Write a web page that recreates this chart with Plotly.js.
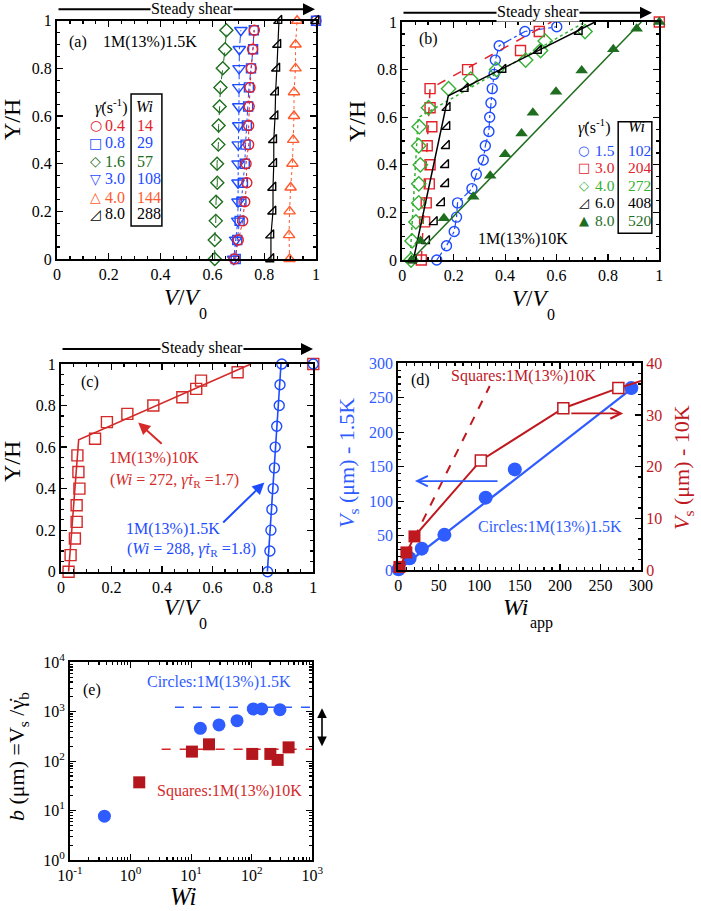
<!DOCTYPE html>
<html><head><meta charset="utf-8">
<script src="https://cdn.plot.ly/plotly-3.0.1.min.js"></script>
<style>html,body{margin:0;padding:0;background:#fff}#chart{width:701px;height:911px}</style>
</head><body><div id="chart"></div>
<script>
// ================= DATA =================
// Panel (a) 1M(13%)1.5K velocity profiles
const aY = [0,0.08,0.16,0.24,0.32,0.40,0.48,0.56,0.64,0.72,0.80,0.88,0.96];
const aY10 = [0,0.1,0.2,0.3,0.4,0.5,0.6,0.7,0.8,0.9,1.0];
const aX04 = [0.685,0.700,0.717,0.725,0.733,0.730,0.740,0.740,0.742,0.745,0.750,0.755,0.762];
const aX08 = [0.690,0.696,0.705,0.712,0.718,0.725,0.728,0.733,0.738,0.741,0.749,0.757,0.760];
const aX16 = [0.609,0.609,0.613,0.614,0.619,0.618,0.623,0.624,0.628,0.631,0.640,0.649,0.654];
const aX30 = [0.682,0.690,0.698,0.699,0.699,0.699,0.700,0.702,0.702,0.702,0.703,0.704,0.710];
const aX40 = [0.898,0.896,0.898,0.902,0.909,0.912,0.915,0.915,0.921,0.921,0.927];
const aX80 = [0.826,0.826,0.834,0.834,0.837,0.837,0.842,0.844,0.849,0.853,0.857];
const aLegRate = ['0.4','0.8','1.6','3.0','4.0','8.0'];
const aLegWi = ['14','29','57','108','144','288'];
const wallX = [1], wallY = [1];

// Panel (b) 1M(13%)10K velocity profiles
const bY15 = [0,0.06,0.12,0.18,0.24,0.30,0.36,0.42,0.48,0.54,0.60,0.66,0.72,0.78,0.84,0.90,0.96,0.98];
const bX15 = [0.134,0.172,0.202,0.211,0.215,0.271,0.288,0.315,0.323,0.337,0.340,0.345,0.350,0.357,0.362,0.377,0.477,0.601];
const bY30 = [0,0.16,0.24,0.32,0.40,0.48,0.56,0.64,0.72,0.80,0.88,0.96];
const bX30 = [0.074,0.087,0.093,0.105,0.108,0.097,0.115,0.108,0.108,0.254,0.460,0.533];
const bY40 = [0,0.08,0.16,0.24,0.32,0.40,0.48,0.56,0.64,0.72,0.76,0.80,0.84,0.88,0.92,0.96];
const bX40 = [0.034,0.038,0.053,0.064,0.064,0.070,0.064,0.066,0.102,0.180,0.266,0.367,0.480,0.538,0.556,0.711];
const bY60 = [0,0.08,0.16,0.24,0.32,0.40,0.48,0.56,0.64,0.72,0.80,0.88,0.96];
const bX60 = [0.043,0.095,0.125,0.153,0.169,0.169,0.172,0.174,0.175,0.245,0.392,0.530,0.689];
const bY80 = [0,0.08,0.175,0.266,0.354,0.444,0.532,0.619,0.707,0.796,0.885,0.972];
const bX80 = [0.036,0.071,0.162,0.276,0.342,0.400,0.464,0.508,0.598,0.698,0.821,0.912];
const bFit30X = [0.074,0.108,0.58], bFit30Y = [0,0.72,1.0];
const bFit40X = [0.030,0.062,0.711], bFit40Y = [0,0.598,1.0];
const bFit60X = [0.043,0.179,0.179,0.75], bFit60Y = [0,0.686,0.69,1.0];
const bFit80X = [0.035,0.93], bFit80Y = [0,1.0];
const bLegRate = ['1.5','3.0','4.0','6.0','8.0'];
const bLegWi = ['102','204','272','408','520'];

// Panel (c) comparison
const cY10K = [0,0.08,0.16,0.24,0.32,0.40,0.48,0.56,0.64,0.72,0.76,0.80,0.84,0.88,0.92,0.96];
const cX10K = [0.030,0.038,0.055,0.062,0.062,0.073,0.069,0.065,0.135,0.182,0.263,0.366,0.481,0.536,0.555,0.700];
const cY15K = [0,0.1,0.2,0.3,0.4,0.5,0.6,0.7,0.8,0.9,1.0];
const cX15K = [0.819,0.828,0.832,0.836,0.841,0.846,0.849,0.855,0.865,0.868,0.875];
const cFit10KX = [0.03,0.07,0.753], cFit10KY = [0,0.635,1.0];
const cFit15KX = [0.818,0.872], cFit15KY = [0,1.0];

// Panel (d) slip velocity vs Wi
const dWi15 = [0.37,14,29,57,108,144,288];
const dV15 = [1,17,31,51,105,146,264];
const dWi10f = [1.4,10,20];
const dV10f = [0.6,3.4,6.5];
const dWi10o = [102,204,272];
const dV10o = [21.2,31.3,35.2];
const dFit15X = [0,295], dFit15Y = [0,269];
const dFit10X = [0,20,102,204,272,300], dFit10Y = [0,6.5,21.2,31.3,35.2,36.6];
const dInit10X = [0,113], dInit10Y = [0,35.6];

// Panel (e) extrapolation length b vs Wi
const eWi15 = [0.37,14.2,28.8,57.2,106,146,292];
const eB15 = [7.7,462,540,660,1137,1137,1102];
const eWi10 = [1.39,10.3,19.7,102,203,268,406];
const eB10 = [37.3,156,219,140,140,106,190];
const eRef15X = [5.4,1000], eRef15Y = [1228,1228];
const eRef10X = [3.26,1000], eRef10Y = [174,174];
const eXtickVals = [0.1,1,10,100,1000];
const eXtickText = ['10<sup>-1</sup>','10<sup>0</sup>','10<sup>1</sup>','10<sup>2</sup>','10<sup>3</sup>'];
const eYtickVals = [1,10,100,1000,10000];
const eYtickText = ['10<sup>0</sup>','10<sup>1</sup>','10<sup>2</sup>','10<sup>3</sup>','10<sup>4</sup>'];

// ================= STYLE =================
const F = 'Liberation Serif';
const RED = '#e3222a', BLUE = '#1d4bff', DGREEN = '#1f6e1f', LGREEN = '#35b034', ORANGE = '#ff5a2e', BLACK = '#000';
const DRED = '#c0181f', EBLUE = '#2f5cff', ERED = '#b3161c';

function tr(x, y, xa, ya, mode, marker, line) {
  const t = {type:'scatter', x:x, y:y, xaxis:xa, yaxis:ya, mode:mode, cliponaxis:false, hoverinfo:'skip', showlegend:false};
  if (marker) t.marker = marker;
  if (line) t.line = line;
  return t;
}
function om(sym, color, size) { return {symbol:sym, size:size||10, color:color, line:{color:color, width:1.4}}; }
function fm(sym, color, size) { return {symbol:sym, size:size||12, color:color, line:{color:color, width:0}}; }

const traces = [
  // (a)
  tr(aX16, aY, 'x', 'y', 'lines+markers', om('diamond-open', DGREEN, 10), {color:DGREEN, width:1, dash:'dash'}),
  tr(aX30, aY, 'x', 'y', 'lines+markers', om('triangle-down-open', BLUE, 11), {color:BLUE, width:1, dash:'dashdot'}),
  tr(aX08, aY, 'x', 'y', 'lines+markers', om('square-open', BLUE, 9), {color:BLUE, width:1, dash:'dashdot'}),
  tr(aX04, aY, 'x', 'y', 'lines+markers', om('circle-open', RED, 10), {color:RED, width:1, dash:'dot'}),
  tr(aX40, aY10, 'x', 'y', 'lines+markers', om('triangle-up-open', ORANGE, 10), {color:ORANGE, width:1, dash:'dot'}),
  tr(aX80, aY10, 'x', 'y', 'lines+markers', om('triangle-se-open', BLACK, 9), {color:BLACK, width:1.2}),
  tr(wallX, wallY, 'x', 'y', 'markers', om('circle-open', RED, 10)),
  tr(wallX, wallY, 'x', 'y', 'markers', om('square-open', BLUE, 9)),
  tr(wallX, wallY, 'x', 'y', 'markers', om('triangle-se-open', BLACK, 9)),
  // (b)
  tr(bX15, bY15, 'x2', 'y2', 'lines+markers', om('circle-open', BLUE, 10), {color:BLUE, width:1.2, dash:'dashdot'}),
  tr(bFit30X, bFit30Y, 'x2', 'y2', 'lines', null, {color:RED, width:1.5, dash:'dash'}),
  tr(bX30, bY30, 'x2', 'y2', 'markers', om('square-open', RED, 10)),
  tr(bFit40X, bFit40Y, 'x2', 'y2', 'lines', null, {color:LGREEN, width:1.5, dash:'dot'}),
  tr(bX40, bY40, 'x2', 'y2', 'markers', om('diamond-open', LGREEN, 11)),
  tr(bFit60X, bFit60Y, 'x2', 'y2', 'lines', null, {color:BLACK, width:1.5}),
  tr(bX60, bY60, 'x2', 'y2', 'markers', om('triangle-se-open', BLACK, 9)),
  tr(bFit80X, bFit80Y, 'x2', 'y2', 'lines', null, {color:DGREEN, width:1.5}),
  tr(bX80, bY80, 'x2', 'y2', 'markers', fm('triangle-up', DGREEN, 11)),
  tr(wallX, wallY, 'x2', 'y2', 'markers', om('square-open', RED, 10)),
  tr(wallX, wallY, 'x2', 'y2', 'markers', fm('triangle-up', DGREEN, 11)),
  // (c)
  tr(cFit10KX, cFit10KY, 'x3', 'y3', 'lines', null, {color:'#d42a2a', width:1.6}),
  tr(cX10K, cY10K, 'x3', 'y3', 'markers', om('square-open', '#d42a2a', 11)),
  tr(cFit15KX, cFit15KY, 'x3', 'y3', 'lines', null, {color:BLUE, width:1.6}),
  tr(cX15K, cY15K, 'x3', 'y3', 'markers', om('circle-open', BLUE, 10)),
  tr(wallX, wallY, 'x3', 'y3', 'markers', om('square-open', '#d42a2a', 11)),
  tr(wallX, wallY, 'x3', 'y3', 'markers', om('circle-open', BLUE, 10)),
  // (d)
  tr(dFit15X, dFit15Y, 'x4', 'y4', 'lines', null, {color:EBLUE, width:2.2}),
  tr(dWi15, dV15, 'x4', 'y4', 'markers', fm('circle', EBLUE, 14)),
  tr(dInit10X, dInit10Y, 'x4', 'y6', 'lines', null, {color:DRED, width:2, dash:'dash'}),
  tr(dFit10X, dFit10Y, 'x4', 'y6', 'lines', null, {color:DRED, width:2}),
  tr(dWi10f, dV10f, 'x4', 'y6', 'markers', fm('square', DRED, 12)),
  tr(dWi10o, dV10o, 'x4', 'y6', 'markers', {symbol:'square', size:11, color:'#fff', line:{color:DRED, width:1.5}}),
  // (e)
  tr(eRef15X, eRef15Y, 'x5', 'y5', 'lines', null, {color:EBLUE, width:1.5, dash:'dash'}),
  tr(eRef10X, eRef10Y, 'x5', 'y5', 'lines', null, {color:'#d8242a', width:1.5, dash:'dash'}),
  tr(eWi15, eB15, 'x5', 'y5', 'markers', fm('circle', EBLUE, 13)),
  tr(eWi10, eB10, 'x5', 'y5', 'markers', fm('square', ERED, 12))
];

// ================= AXES =================
function ax(dom, extra) {
  return Object.assign({
    domain: dom, showline:true, linecolor:'black', linewidth:2, mirror:'ticks',
    ticks:'inside', ticklen:6, tickwidth:1.2, tickcolor:'black',
    showgrid:false, zeroline:false, fixedrange:true,
    tickfont:{family:F, size:16, color:'black'}
  }, extra);
}
const H = 911, W = 701;
const px = v => v / W, py = v => 1 - v / H;

const lin01 = {range:[0,1], dtick:0.2, tick0:0, minor:{ticks:'inside', ticklen:3, dtick:0.05, tickcolor:'black'}};

const layout = {
  width: W, height: H, margin:{l:0, r:0, t:0, b:0},
  paper_bgcolor:'#fff', plot_bgcolor:'#fff', showlegend:false,
  font:{family:F, color:'black'},
  xaxis:  ax([px(57), px(316)], Object.assign({anchor:'y'}, lin01)),
  yaxis:  ax([py(259), py(20.7)], Object.assign({anchor:'x'}, lin01)),
  xaxis2: ax([px(402.3), px(659.3)], Object.assign({anchor:'y2'}, lin01)),
  yaxis2: ax([py(260), py(22)], Object.assign({anchor:'x2'}, lin01)),
  xaxis3: ax([px(61), px(313.3)], Object.assign({anchor:'y3'}, lin01)),
  yaxis3: ax([py(571.7), py(364)], Object.assign({anchor:'x3'}, lin01)),
  xaxis4: ax([px(398.3), px(641)], {anchor:'y4', range:[0,300], dtick:50, tick0:0,
           minor:{ticks:'inside', ticklen:3, dtick:10, tickcolor:'black'}}),
  yaxis4: ax([py(570), py(363.3)], {anchor:'x4', range:[0,300], dtick:50, tick0:0, mirror:false,
           tickfont:{family:F, size:16, color:EBLUE},
           minor:{ticks:'inside', ticklen:3, dtick:10, tickcolor:'black'}}),
  yaxis6: ax([py(570), py(363.3)], {anchor:'x4', overlaying:'y4', side:'right', range:[0,40], dtick:10, tick0:0, mirror:false,
           tickfont:{family:F, size:16, color:DRED},
           minor:{ticks:'inside', ticklen:3, dtick:2, tickcolor:'black'}}),
  xaxis5: ax([px(70), px(312.3)], {anchor:'y5', type:'log', range:[-1,3], tickmode:'array',
           tickvals:eXtickVals, ticktext:eXtickText,
           minor:{ticks:'inside', ticklen:3, dtick:'D1', tickcolor:'black'}}),
  yaxis5: ax([py(860), py(662.3)], {anchor:'x5', type:'log', range:[0,4], tickmode:'array',
           tickvals:eYtickVals, ticktext:eYtickText,
           minor:{ticks:'inside', ticklen:3, dtick:'D1', tickcolor:'black'}}),
  shapes: [
    {type:'rect', xref:'x', yref:'y', x0:0.286, x1:0.405, y0:0.138, y1:0.692, line:{color:'black', width:1.5}},
    {type:'rect', xref:'x2', yref:'y2', x0:0.84, x1:0.971, y0:0.112, y1:0.581, line:{color:'black', width:1.5}}
  ],
  annotations: []
};

const A = layout.annotations;
function T(text, x, y, xref, yref, size, color, extra) {
  A.push(Object.assign({text:text, x:x, y:y, xref:xref, yref:yref, showarrow:false,
    xanchor:'center', yanchor:'middle',
    font:{family:F, size:size, color:color||'black'}}, extra||{}));
}
function arrowP(x0, x1, y, extra) { // horizontal arrow in paper px
  A.push(Object.assign({text:'', x:px(x1), y:py(y), ax:px(x0), ay:py(y), xref:'paper', yref:'paper',
    axref:'paper', ayref:'paper', showarrow:true, arrowhead:2, arrowsize:1.2, arrowwidth:2, arrowcolor:'black'}, extra||{}));
}

// Steady shear arrows
arrowP(57, 315, 9.3); T('Steady shear', px(192), py(9), 'paper', 'paper', 16, 'black', {bgcolor:'#fff', borderpad:0});
arrowP(402, 652, 12.7); T('Steady shear', px(538), py(12), 'paper', 'paper', 16, 'black', {bgcolor:'#fff', borderpad:0});
arrowP(61, 313, 349); T('Steady shear', px(202), py(348), 'paper', 'paper', 16, 'black', {bgcolor:'#fff', borderpad:0});

// Axis titles
const YH = (x, y) => T('Y/H', px(x), py(y), 'paper', 'paper', 24, 'black', {textangle:-90});
const VV = (x, y) => { T('<i>V</i>/<i>V</i>', px(x), py(y), 'paper', 'paper', 23); T('0', px(x + 21), py(y + 16), 'paper', 'paper', 16); };
YH(12, 120); VV(182, 297);
YH(357, 122); VV(530, 298);
YH(12, 462); VV(182, 607);
T('<i>V</i><sub>s</sub> (μm) - 1.5K', px(348), py(463), 'paper', 'paper', 22, EBLUE, {textangle:-90});
T('<i>V</i><sub>s</sub> (μm) - 10K', px(683), py(468), 'paper', 'paper', 22, DRED, {textangle:-90});
T('<i>Wi</i>', px(515), py(607), 'paper', 'paper', 24);
T('app', px(541), py(623), 'paper', 'paper', 16);
T('<i>b</i> (μm) =V<sub>s</sub> /γ̇<sub>b</sub>', px(18), py(757), 'paper', 'paper', 22, 'black', {textangle:-90});
T('<i>Wi</i>', px(183), py(896), 'paper', 'paper', 25);

// Panel (a) labels
T('(a)', 0.081, 0.91, 'x', 'y', 16);
T('1M(13%)1.5K', 0.36, 0.91, 'x', 'y', 16);
T('<i>γ̇</i>(s<sup>-1</sup>)', 0.212, 0.642, 'x', 'y', 16);
T('<i>Wi</i>', 0.298, 0.642, 'x', 'y', 16, 'black', {xanchor:'left'});
const aSym = ['○','□','◇','▽','△','◿'];
const aCol = [RED, BLUE, DGREEN, BLUE, ORANGE, BLACK];
const aRowY = [0.562,0.487,0.411,0.336,0.26,0.189];
aLegRate.forEach((r, i) => {
  T(aSym[i], 0.15, aRowY[i], 'x', 'y', 15, aCol[i], {font:{family:'DejaVu Sans', size:14, color:aCol[i]}});
  T(r, 0.224, aRowY[i], 'x', 'y', 16, aCol[i]);
  T(aLegWi[i], 0.3, aRowY[i], 'x', 'y', 16, aCol[i], {xanchor:'left'});
});

// Panel (b) labels
T('(b)', 0.101, 0.929, 'x2', 'y2', 16);
T('1M(13%)10K', 0.47, 0.088, 'x2', 'y2', 16);
T('<i>γ̇</i>(s<sup>-1</sup>)', 0.747, 0.559, 'x2', 'y2', 16);
T('<i>Wi</i>', 0.872, 0.559, 'x2', 'y2', 16, 'black', {xanchor:'left'});
const bSym = ['○','□','◇','◿','▲'];
const bCol = [BLUE, RED, LGREEN, BLACK, DGREEN];
const bRowY = [0.459,0.387,0.311,0.240,0.168];
bLegRate.forEach((r, i) => {
  T(bSym[i], 0.706, bRowY[i], 'x2', 'y2', 15, bCol[i], {font:{family:'DejaVu Sans', size:13, color:bCol[i]}});
  T(r, 0.79, bRowY[i], 'x2', 'y2', 15.5, bCol[i]);
  T(bLegWi[i], 0.869, bRowY[i], 'x2', 'y2', 15.5, bCol[i], {xanchor:'left'});
});

// Panel (c) labels and arrows
T('(c)', 0.115, 0.915, 'x3', 'y3', 16);
T('1M(13%)10K', 0.369, 0.546, 'x3', 'y3', 16, '#d42a2a');
T('(<i>Wi</i> = 272, <i>γ̇τ</i><sub>R</sub> =1.7)', 0.448, 0.441, 'x3', 'y3', 16, '#d42a2a');
T('1M(13%)1.5K', 0.445, 0.204, 'x3', 'y3', 16, BLUE);
T('(<i>Wi</i> = 288, <i>γ̇τ</i><sub>R</sub> =1.8)', 0.519, 0.108, 'x3', 'y3', 16, BLUE);
A.push({text:'', x:0.306, y:0.718, ax:0.405, ay:0.61, xref:'x3', yref:'y3', axref:'x3', ayref:'y3',
  showarrow:true, arrowhead:2, arrowsize:1.2, arrowwidth:2, arrowcolor:'#d42a2a'});
A.push({text:'', x:0.806, y:0.43, ax:0.637, ay:0.23, xref:'x3', yref:'y3', axref:'x3', ayref:'y3',
  showarrow:true, arrowhead:2, arrowsize:1.2, arrowwidth:2, arrowcolor:BLUE});

// Panel (d) labels and arrows
T('(d)', 27.7, 276, 'x4', 'y4', 16);
T('Squares:1M(13%)10K', 155, 281.6, 'x4', 'y4', 16, DRED);
T('Circles:1M(13%)1.5K', 187.5, 63, 'x4', 'y4', 16, EBLUE);
A.push({text:'', x:20.6, y:129, ax:124.5, ay:129, xref:'x4', yref:'y4', axref:'x4', ayref:'y4',
  showarrow:true, arrowhead:5, arrowsize:1.3, arrowwidth:1.6, arrowcolor:EBLUE});
A.push({text:'', x:278, y:30.3, ax:212, ay:30.3, xref:'x4', yref:'y6', axref:'x4', ayref:'y6',
  showarrow:true, arrowhead:5, arrowsize:1.3, arrowwidth:1.6, arrowcolor:DRED});

// Panel (e) labels and arrow (log axes: annotation positions in log10 units)
T('(e)', -0.642, 3.44, 'x5', 'y5', 16);
T('Circles:1M(13%)1.5K', 1.454, 3.595, 'x5', 'y5', 16, EBLUE);
T('Squares:1M(13%)10K', 1.641, 1.396, 'x5', 'y5', 16, '#d42a2a');
A.push({text:'', x:px(322), y:3.068, ax:0, ay:2.272, xref:'paper', yref:'y5', axref:'pixel', ayref:'y5',
  showarrow:true, arrowhead:2, startarrowhead:2, arrowside:'end+start', arrowsize:1.2, arrowwidth:1.6, arrowcolor:'black'});

Plotly.newPlot('chart', traces, layout, {staticPlot:true, displayModeBar:false});
</script>
</body></html>
